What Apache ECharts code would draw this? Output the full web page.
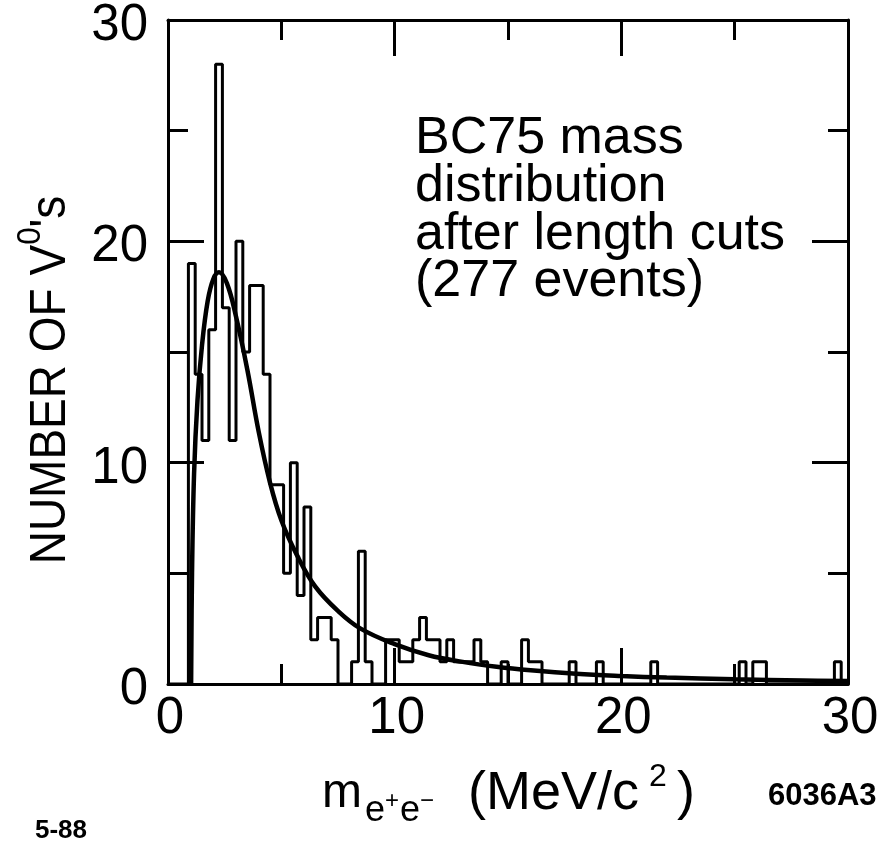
<!DOCTYPE html>
<html>
<head>
<meta charset="utf-8">
<script src="https://cdn.jsdelivr.net/npm/echarts@6/dist/echarts.min.js"></script>
<style>
  html, body { margin: 0; padding: 0; background: #fff; }
  #main { width: 893px; height: 845px; }
</style>
</head>
<body>
<div id="main"></div>
<script>
// histogram: 0.3 MeV bins from 0 to 30
const binStart = 0
const binWidth = 0.3
const counts = [
    0, 0, 0, 19, 14, 11, 16, 28, 17, 11,
    20, 15, 18, 18, 14, 9, 9, 5, 10, 4,
    8, 2, 3, 3, 2, 0, 0, 1, 6, 1,
    0, 0, 2, 2, 1, 1, 2, 3, 2, 2,
    1, 2, 1, 1, 1, 2, 1, 0, 0, 1,
    0, 0, 2, 1, 1, 0, 0, 0, 0, 1,
    0, 0, 0, 1, 0, 0, 0, 0, 0, 0,
    0, 1, 0, 0, 0, 0, 0, 0, 0, 0,
    0, 0, 0, 0, 1, 0, 1, 1, 0, 0,
    0, 0, 0, 0, 0, 0, 0, 0, 1, 0,
]
// fitted curve
const fitMass = [1.02, 1.06, 1.15, 1.3, 1.5, 1.75, 2.0, 2.25, 2.6, 3.0, 3.5, 4.0, 4.5,
    5.0, 5.7, 6.5, 7.5, 8.5, 10, 11.5, 13, 14.5, 16, 18, 20, 22, 25, 28, 30]
const fitCount = [0, 5, 9.5, 12.8, 15.3, 17.3, 18.3, 18.6, 18.1, 16.6, 14.2, 11.4, 9.1,
    7.4, 5.8, 4.4, 3.3, 2.5, 1.8, 1.3, 1.0, 0.78, 0.62, 0.46, 0.36, 0.29, 0.21, 0.16, 0.13]
const xTicks = [0, 30, 10]   // min, max, interval
const yTicks = [0, 30, 10]

const FONT = '"Liberation Sans", Arial, Helvetica, sans-serif'

let histData = counts.map((c, i) => [binStart + i * binWidth, c])
histData.push([binStart + counts.length * binWidth, 0])
let fitData = fitMass.map((m, i) => [m, fitCount[i]])

function axis(ticks, position, label) {
    return {
        type: 'value',
        position: position,
        min: ticks[0],
        max: ticks[1],
        interval: ticks[2],
        axisLine: { show: true, onZero: false, lineStyle: { color: '#000', width: 3 } },
        axisTick: { show: true, inside: true, length: 36, lineStyle: { color: '#000', width: 3 } },
        minorTick: { show: true, splitNumber: 2, length: 20, lineStyle: { color: '#000', width: 3 } },
        splitLine: { show: false },
        minorSplitLine: { show: false },
        axisLabel: Object.assign({
            show: !!label,
            color: '#000',
            fontSize: 51,
            fontFamily: FONT,
        }, label || {}),
    }
}

function txt(text, x, y, size, weight) {
    return {
        type: 'text',
        x: x,
        y: y,
        style: {
            text: text,
            fill: '#000',
            fontSize: size,
            fontWeight: weight || 'normal',
            fontFamily: FONT,
            align: 'left',
            textAlign: 'left',
            verticalAlign: 'middle',
            textVerticalAlign: 'middle',
        },
    }
}

let chart = echarts.init(document.getElementById('main'), null, { renderer: 'canvas' })
chart.setOption({
    animation: false,
    backgroundColor: '#fff',
    grid: {
        left: 168, right: 45, top: 20, bottom: 161,
        containLabel: false, outerBoundsMode: 'none',
    },
    xAxis: [
        axis(xTicks, 'bottom', { margin: 9, padding: [0, 0, 0, 4] }),
        axis(xTicks, 'top', null),
    ],
    yAxis: [
        // labels sit a little below their ticks in the reference
        axis(yTicks, 'left', { margin: 20, verticalAlign: 'top', lineHeight: 12 }),
        axis(yTicks, 'right', null),
    ],
    series: [
        {
            type: 'line',
            step: 'end',
            data: histData,
            showSymbol: false,
            symbol: 'none',
            lineStyle: { color: '#000', width: 3 },
        },
        {
            type: 'line',
            data: fitData,
            smooth: 0.4,
            showSymbol: false,
            symbol: 'none',
            lineStyle: { color: '#000', width: 4.5 },
        },
    ],
    graphic: { elements: [
        // annotation
        txt('BC75 mass', 415, 139, 52),
        txt('distribution', 415, 187, 52),
        txt('after length cuts', 415, 235, 52),
        txt('(277 events)', 415, 282, 52),
        // y axis name, rotated
        {
            type: 'text',
            x: 45,
            y: 380,
            rotation: Math.PI / 2,
            scaleX: 0.92,
            style: {
                text: '{a|NUMBER OF V}{sup|0}{a|\'s}',
                fill: '#000',
                align: 'center',
                textAlign: 'center',
                verticalAlign: 'middle',
                textVerticalAlign: 'middle',
                rich: {
                    a: { fontSize: 50, fontFamily: FONT, fill: '#000', verticalAlign: 'bottom' },
                    sup: { fontSize: 34, fontFamily: FONT, fill: '#000', verticalAlign: 'bottom', padding: [0, 0, 28, 0] },
                },
            },
        },
        // x axis name
        txt('m', 322, 794, 48),
        txt('e', 365, 811, 36),
        txt('+', 385, 801, 24),
        txt('e', 400, 811, 36),
        txt('\u2212', 420, 801, 24),
        txt('(MeV/c', 468, 794, 54),
        txt('2', 649, 777, 32),
        txt(')', 677, 794, 54),
        // plate labels
        txt('5-88', 35, 831, 26, 'bold'),
        txt('6036A3', 768, 796, 31, 'bold'),
    ] },
})
</script>
</body>
</html>
